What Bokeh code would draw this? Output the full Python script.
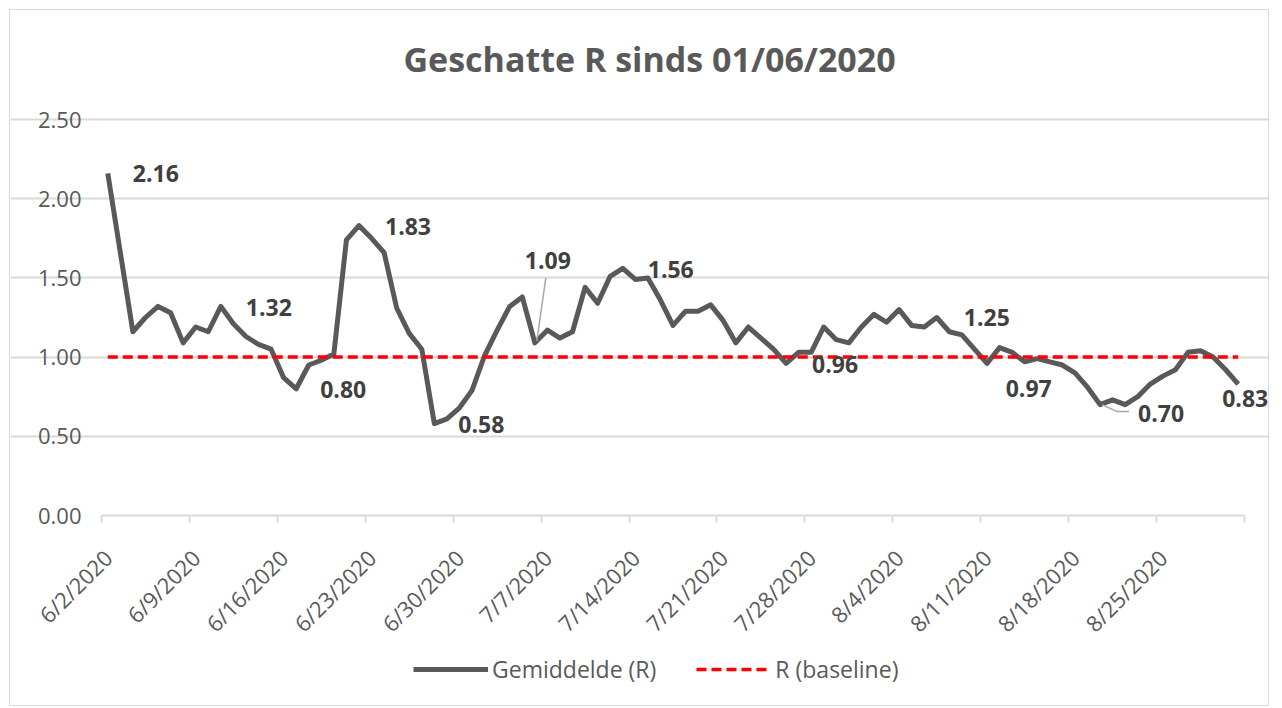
import pandas as pd
from bokeh.plotting import figure
from bokeh.models import (Range1d, FixedTicker, NumeralTickFormatter, Legend,
                          LegendItem, DatetimeAxis)
from bokeh.core.properties import value
from bokeh.embed import file_html
from bokeh.resources import INLINE

# ---------------- data ----------------
title_text = "Geschatte R sinds 01/06/2020"
start_date = "2020-06-02"
series_names = ["Gemiddelde (R)", "R (baseline)"]

r_values = [
    2.16, 1.66, 1.16, 1.25, 1.32, 1.28, 1.09, 1.19, 1.16, 1.32,
    1.21, 1.13, 1.08, 1.05, 0.87, 0.80, 0.95, 0.98, 1.02, 1.74,
    1.83, 1.75, 1.66, 1.31, 1.15, 1.05, 0.58, 0.61, 0.68, 0.79,
    1.01, 1.17, 1.32, 1.38, 1.09, 1.17, 1.12, 1.16, 1.44, 1.34,
    1.51, 1.56, 1.49, 1.50, 1.36, 1.20, 1.29, 1.29, 1.33, 1.23,
    1.09, 1.19, 1.12, 1.05, 0.96, 1.03, 1.03, 1.19, 1.11, 1.09,
    1.19, 1.27, 1.22, 1.30, 1.20, 1.19, 1.25, 1.16, 1.14, 1.05,
    0.96, 1.06, 1.03, 0.97, 0.99, 0.97, 0.95, 0.90, 0.81, 0.70,
    0.73, 0.70, 0.75, 0.83, 0.88, 0.92, 1.03, 1.04, 1.00, 0.92,
    0.83,
]
baseline_value = 1.0

y_ticks = [0.0, 0.5, 1.0, 1.5, 2.0, 2.5]
x_tick_labels = ["6/2/2020", "6/9/2020", "6/16/2020", "6/23/2020", "6/30/2020",
                 "7/7/2020", "7/14/2020", "7/21/2020", "7/28/2020", "8/4/2020",
                 "8/11/2020", "8/18/2020", "8/25/2020", ""]

# indices of points that carry a data label
label_index = [0, 9, 15, 20, 26, 34, 41, 54, 66, 73, 79, 90]

# ---------------- layout / style ----------------
label_dx = [25, 25, 24, 26, 24, -10, 25, 26, 27, -19, 38, -16]
label_dy = [0, 1, 1, 1, 1, -82, 1, 1.5, 0, 27, 9, 14]
leader_px = {34: [(2, -2), (11, -65)], 79: [(2, 0), (17, 7), (29, 7)]}

AXIS_PX_W, AXIS_PX_H = 1143, 396   # pixel size of the data area (6/2..9/1, 0..2.5)
FIG_W, FIG_H = 1260, 697
AXIS_LEFT, AXIS_TOP = 91, 109      # data area offset inside the figure
TOP_PAD = 20                       # frame reaches this far above the 2.50 line
BORDER_T = AXIS_TOP - TOP_PAD
FRAME_W = FIG_W
FRAME_H = FIG_H - BORDER_T
LABEL_SHIFT_DAYS = 0.5

GREY = "#595959"
GRID = "#d9d9d9"
FONT = "Open Sans"

dates = pd.date_range(start_date, periods=len(r_values), freq="D")
x_start = dates[0]
x_end = dates[-1] + pd.Timedelta(days=1)
n_days = (x_end - x_start).days
px_per_day = AXIS_PX_W / n_days
px_per_unit = AXIS_PX_H / (y_ticks[-1] - y_ticks[0])
x_view_start = x_start - pd.Timedelta(days=AXIS_LEFT / px_per_day)
x_view_end = x_end + pd.Timedelta(days=(FRAME_W - AXIS_LEFT - AXIS_PX_W) / px_per_day)
y_view_max = y_ticks[-1] + TOP_PAD / px_per_unit
y_view_min = y_view_max - FRAME_H / px_per_unit

to_ms = lambda t: float(t.value // 10**6)
x_pts = [to_ms(d + pd.Timedelta(hours=12)) for d in dates]
tick_dates = pd.date_range(x_start, x_end, freq="7D")
tick_ms = [to_ms(t) for t in tick_dates]
label_tick_ms = [to_ms(t + pd.Timedelta(days=LABEL_SHIFT_DAYS)) for t in tick_dates]

p = figure(
    width=FIG_W, height=FIG_H, output_backend="svg", toolbar_location=None,
    x_axis_type="datetime",
    x_range=Range1d(to_ms(x_view_start), to_ms(x_view_end)),
    y_range=Range1d(y_view_min, y_view_max),
    min_border_left=0, min_border_top=BORDER_T,
    min_border_right=0, min_border_bottom=0,
)
p.styles = {"border": "1px solid #d9d9d9", "margin-left": "9px", "margin-top": "9px"}
p.outline_line_color = None
p.background_fill_color = "white"
p.border_fill_color = "white"

# title
p.title.text = title_text
p.title.align = "left"
p.title.offset = AXIS_LEFT + 302
p.title.text_font = FONT
p.title.text_font_style = "bold"
p.title.text_font_size = "34px"
p.title.text_color = GREY
p.title.standoff = 36

# x axis at y = 0: line + ticks (labels drawn by a second axis)
xa = p.xaxis[0]
xa.fixed_location = y_ticks[0]
xa.ticker = FixedTicker(ticks=tick_ms)
xa.bounds = (to_ms(x_start), to_ms(x_end))
xa.major_label_overrides = {t: "" for t in tick_ms}
xa.axis_line_color = GRID
xa.axis_line_width = 2
xa.major_tick_line_color = GRID
xa.major_tick_line_width = 2
xa.major_tick_in = 0
xa.major_tick_out = 7
xa.minor_tick_line_color = None

xl = DatetimeAxis(
    fixed_location=y_ticks[0],
    ticker=FixedTicker(ticks=label_tick_ms),
    major_label_overrides={t: lab for t, lab in zip(label_tick_ms, x_tick_labels)},
    major_label_orientation=0.785398,
    major_label_text_font=FONT, major_label_text_font_size="22px",
    major_label_text_color=GREY, major_label_standoff=38,
    axis_line_color=None, major_tick_line_color=None, minor_tick_line_color=None,
    major_tick_in=0, major_tick_out=0,
)
p.add_layout(xl, "below")

# y axis at the first date
ya = p.yaxis[0]
ya.fixed_location = to_ms(x_start)
ya.ticker = FixedTicker(ticks=y_ticks)
ya.formatter = NumeralTickFormatter(format="0.00")
ya.major_label_text_font = FONT
ya.major_label_text_font_size = "22px"
ya.major_label_text_color = GREY
ya.axis_line_color = None
ya.major_tick_line_color = None
ya.minor_tick_line_color = None
ya.major_tick_in = 0
ya.major_tick_out = 0
ya.major_label_standoff = 20

p.xgrid.grid_line_color = None
p.ygrid.ticker = FixedTicker(ticks=y_ticks[1:])
p.ygrid.bounds = (to_ms(x_start), to_ms(x_end))
p.ygrid.grid_line_color = GRID
p.ygrid.grid_line_width = 2

# series
r_line = p.line(x_pts, r_values, line_color=GREY, line_width=5, line_join="round")
base_line = p.line(x_pts, [baseline_value] * len(x_pts), line_color="#ff0000",
                   line_width=3.5, line_dash="10 5")

# leader lines
px_per_ms = px_per_day / 86400000.0
xs, ys = [], []
for idx, pts in leader_px.items():
    xs.append([x_pts[idx] + dx / px_per_ms for dx, dy in pts])
    ys.append([r_values[idx] - dy / px_per_unit for dx, dy in pts])
p.multi_line(xs, ys, line_color="#a6a6a6", line_width=1.5)

# data labels
p.text(
    x=[x_pts[i] for i in label_index],
    y=[r_values[i] for i in label_index],
    text=[f"{r_values[i]:.2f}" for i in label_index],
    x_offset=label_dx, y_offset=label_dy,
    text_font=value(FONT), text_font_style="bold", text_font_size="23px",
    text_color="#404040", text_align="left", text_baseline="middle",
)

# legend (inside the extended frame, below the axis labels)
legend = Legend(
    items=[LegendItem(label=series_names[0], renderers=[r_line]),
           LegendItem(label=series_names[1], renderers=[base_line])],
    orientation="horizontal", location=(AXIS_LEFT + 312, 22),
    glyph_width=75, glyph_height=24, label_height=24, label_standoff=4,
    spacing=40, padding=0, margin=0,
    label_text_font=FONT, label_text_font_size="23px", label_text_color=GREY,
    border_line_color=None, background_fill_alpha=0,
)
p.add_layout(legend)

open("out.html", "w").write(file_html(p, INLINE))
